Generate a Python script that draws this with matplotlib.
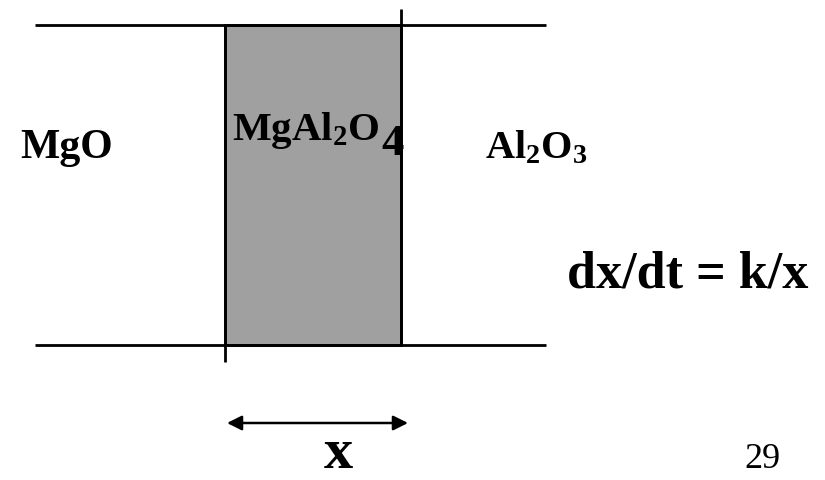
import matplotlib
matplotlib.use("Agg")
import matplotlib.pyplot as plt
from matplotlib.patches import Rectangle

plt.rcParams.update({
  'font.family': ['Liberation Serif', 'DejaVu Serif'],
  'mathtext.fontset': 'custom',
  'mathtext.rm': 'Liberation Serif:bold',
  'mathtext.bf': 'Liberation Serif:bold',
  'mathtext.default': 'rm',
})

# phase labels, left to right
PHASES = ["MgO", r"MgAl$_2$O", r"Al$_2$O$_3$"]
RATE_LAW = "dx/dt = k/x"
THICKNESS_LABEL = "x"
PAGE_NO = "29"

# layer geometry in picture pixels
BOUNDS_X = [35, 546]          # extent of the interface lines
INTERFACE_Y = [25, 345]       # top and bottom boundary lines
LAYER_X = [225, 401]          # spinel layer edges
ARROW_Y = 423

fig = plt.figure(figsize=(8.25, 4.8), dpi=100)
ax = fig.add_axes([0, 0, 1, 1])
ax.set_xlim(0, 825)
ax.set_ylim(480, 0)
ax.axis("off")

lw = 2.0
ax.add_patch(Rectangle((LAYER_X[0], INTERFACE_Y[0]), LAYER_X[1] - LAYER_X[0],
                       INTERFACE_Y[1] - INTERFACE_Y[0],
                       facecolor="#a0a0a0", edgecolor="black", lw=lw))
for y in INTERFACE_Y:
  ax.plot(BOUNDS_X, [y, y], color="black", lw=lw, solid_capstyle="butt")
# the two layer edges stick out past the lines
ax.plot([LAYER_X[1], LAYER_X[1]], [9, INTERFACE_Y[1]], color="black", lw=lw, solid_capstyle="butt")
ax.plot([LAYER_X[0], LAYER_X[0]], [INTERFACE_Y[0], 362], color="black", lw=lw, solid_capstyle="butt")

ax.annotate("", xy=(227, ARROW_Y), xytext=(408, ARROW_Y),
            arrowprops=dict(arrowstyle="<|-|>", color="black", lw=1.8,
                            mutation_scale=22, shrinkA=0, shrinkB=0))

tkw = dict(fontweight="bold", color="black", ha="left", va="baseline")
ax.text(20, 158, PHASES[0], fontsize=30, **tkw)
ax.text(232, 140, PHASES[1], fontsize=29.5, **tkw)
ax.text(381, 155, "4", fontsize=32, **tkw)
ax.text(485, 158, PHASES[2], fontsize=29, **tkw)
ax.text(567, 287, RATE_LAW, fontsize=37.5, **tkw)
# sits at the very bottom edge, as in the slide
ax.text(338, 479.5, THICKNESS_LABEL, fontsize=42, fontweight="bold", ha="center", va="bottom")
ax.text(744, 468, PAGE_NO, fontsize=26, ha="left", va="baseline")

fig.savefig("out.png", dpi=100)
